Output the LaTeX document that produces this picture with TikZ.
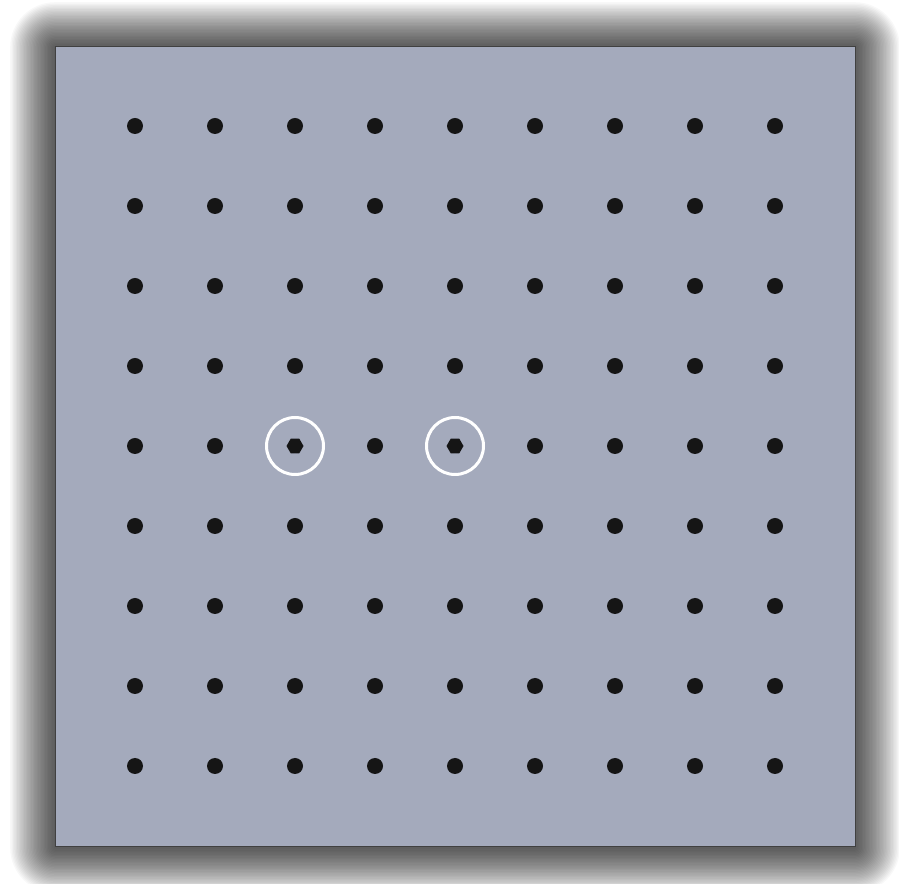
\documentclass[tikz,border=0pt]{standalone}
\usetikzlibrary{shapes.geometric}
\definecolor{boardgray}{HTML}{A4AABC}
\definecolor{pegblack}{HTML}{151515}
\tikzset{
    peg/.style={circle, fill=pegblack, inner sep=0pt, minimum size=16},
    hexpeg/.style={regular polygon, regular polygon sides=6, fill=pegblack, inner sep=0pt, minimum size=17},
    ring/.style={circle, draw=white, line width=3, inner sep=0pt, minimum size=57},
}
\begin{document}
\begin{tikzpicture}[x=1pt, y=1pt]
    \useasboundingbox[fill=white] (0,0) rectangle (899,883);
    % soft shadow round the board
    \foreach \k in {1,...,32} {
        \fill[black, opacity=0.026, rounded corners=1.4*\k] ({55-1.4*\k},{35-1.4*\k}) rectangle ({855+1.4*\k},{836+1.4*\k});
    }
    \draw[fill=boardgray, draw=black!75, line width=1] (55,36) rectangle (855,836);
    % peg grid
    \foreach \j in {0,1,2,3,5,6,7,8} {
        \foreach \i in {0,...,8} {
            \node[peg] (p\i\j) at (135+80*\i, 757-80*\j) {};
        }
    }
    \foreach \i in {0,1,3,5,6,7,8} {
        \node[peg] (p\i4) at (135+80*\i, 437) {};
    }
    % the two marked pegs
    \node[hexpeg] (h24) at (295, 437) {};
    \node[hexpeg] (h44) at (455, 437) {};
    \node[ring] (r24) at (h24) {};
    \node[ring] (r44) at (h44) {};
\end{tikzpicture}
\end{document}
